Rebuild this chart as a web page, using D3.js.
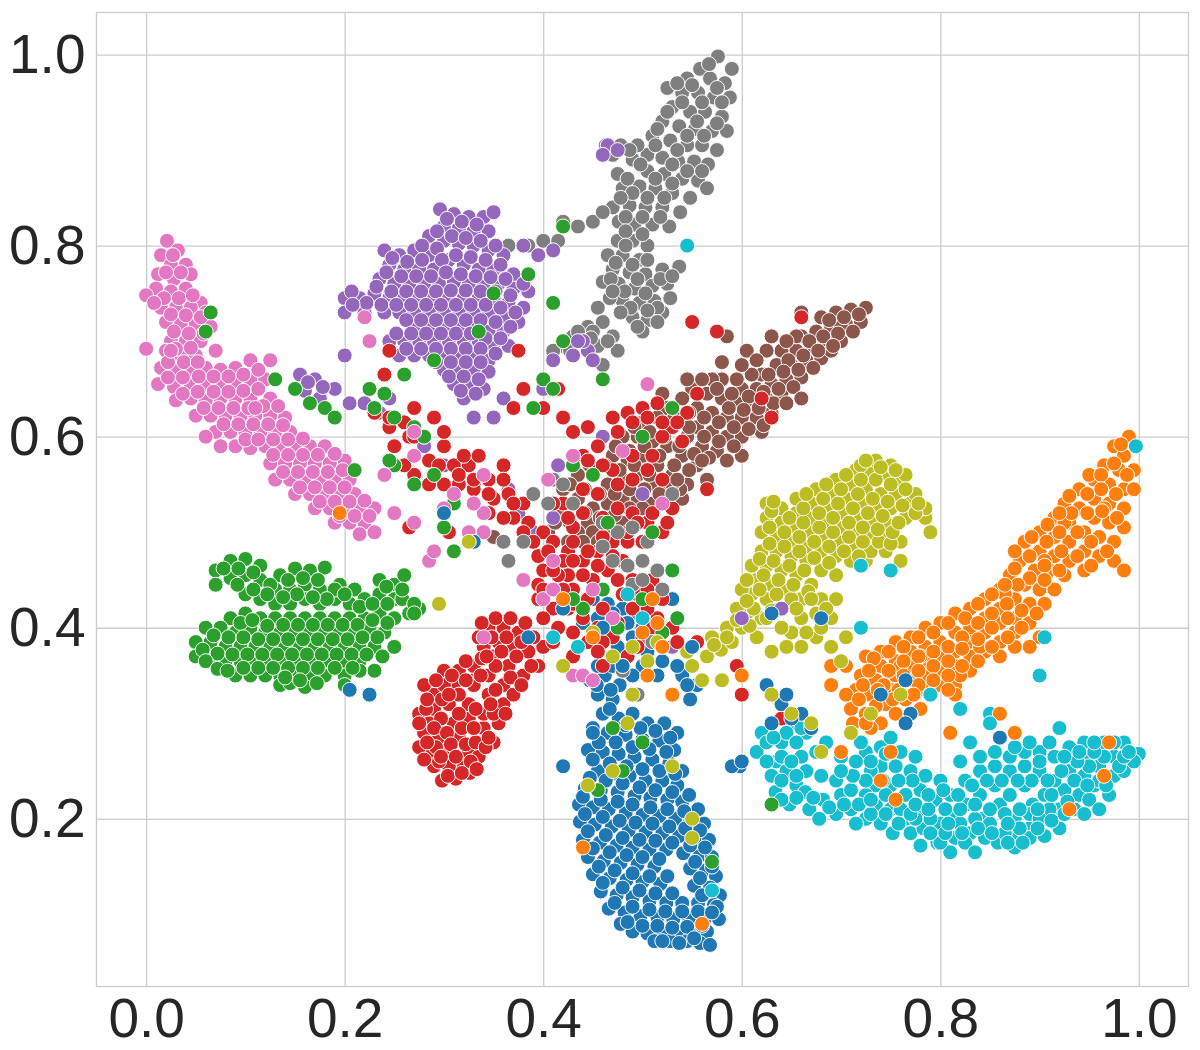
<!DOCTYPE html>
<html>
<head>
<meta charset="utf-8">
<script src="https://cdn.jsdelivr.net/npm/d3@7"></script>
<style>
  html, body { margin: 0; padding: 0; background: #fff; }
  text { font-family: "Liberation Sans", Arial, sans-serif; fill: #262626; }
</style>
</head>
<body>
<div id="chart"></div>
<script>
// points, one list per class, [x, y]
const gray = [[.576,.998],[.558,.985],[.59,.985],[.545,.975],[.568,.975],[.583,.97],[.525,.965],[.54,.96],[.556,.96],[.572,.955],[.588,.955],[.53,.945],[.548,.94],[.563,.94],[.58,.935],[.52,.93],[.537,.925],[.553,.922],[.57,.92],[.585,.92],[.51,.915],[.528,.91],[.545,.905],[.56,.905],[.575,.9],[.505,.895],[.52,.892],[.536,.888],[.552,.888],[.566,.885],[.463,.905],[.478,.905],[.495,.905],[.49,.89],[.505,.878],[.522,.875],[.54,.87],[.556,.868],[.475,.875],[.48,.86],[.497,.862],[.513,.86],[.53,.855],[.548,.85],[.47,.84],[.487,.842],[.503,.84],[.52,.84],[.538,.835],[.565,.86],[.476,.825],[.492,.822],[.51,.822],[.527,.82],[.475,.805],[.49,.805],[.505,.8],[.465,.79],[.48,.79],[.497,.785],[.47,.775],[.487,.772],[.503,.77],[.52,.775],[.537,.778],[.46,.762],[.476,.76],[.492,.755],[.51,.758],[.525,.76],[.48,.742],[.497,.74],[.512,.742],[.467,.745],[.528,.745],[.49,.725],[.505,.722],[.52,.73],[.5,.71],[.455,.735],[.42,.825],[.435,.82],[.415,.805],[.4,.805],[.385,.8],[.365,.8],[.45,.825],[.46,.835],[.43,.705],[.445,.715],[.46,.72],[.42,.695],[.47,.705],[.44,.7],[.455,.695],[.475,.69],[.46,.675],[.41,.69]];
const grayFill = [[.567,.99],[.55,.968],[.575,.965],[.535,.97],[.56,.95],[.54,.95],[.58,.95],[.525,.94],[.555,.93],[.575,.928],[.515,.922],[.545,.915],[.562,.915],[.535,.9],[.513,.905],[.53,.885],[.545,.878],[.56,.878],[.498,.885],[.487,.9],[.47,.895],[.485,.87],[.513,.87],[.53,.865],[.505,.85],[.522,.85],[.49,.855],[.478,.85],[.483,.83],[.5,.83],[.518,.83],[.483,.815],[.5,.812],[.483,.8],[.473,.782],[.49,.78],[.505,.785],[.495,.765],[.468,.765],[.482,.752],[.503,.75],[.518,.765],[.53,.768],[.47,.752],[.488,.735],[.515,.735],[.505,.732],[.478,.73],[.495,.715],[.515,.72],[.45,.71],[.465,.7],[.435,.71],[.448,.703],[.427,.69]];

const blue = [[.447,.345],[.462,.35],[.477,.34],[.455,.33],[.47,.325],[.54,.35],[.555,.34],[.548,.325],[.46,.31],[.476,.305],[.49,.31],[.505,.3],[.522,.3],[.535,.29],[.45,.295],[.465,.29],[.483,.288],[.5,.283],[.517,.282],[.532,.272],[.445,.272],[.46,.27],[.476,.268],[.492,.265],[.51,.262],[.527,.258],[.54,.25],[.455,.25],[.47,.248],[.487,.245],[.503,.24],[.52,.24],[.535,.235],[.442,.232],[.458,.23],[.475,.228],[.492,.224],[.508,.222],[.525,.22],[.54,.218],[.556,.21],[.436,.215],[.45,.212],[.466,.21],[.483,.206],[.5,.204],[.517,.203],[.533,.2],[.548,.197],[.562,.195],[.437,.197],[.452,.194],[.469,.192],[.486,.188],[.503,.186],[.52,.185],[.537,.182],[.553,.18],[.567,.178],[.44,.178],[.457,.175],[.474,.172],[.49,.17],[.507,.168],[.524,.168],[.541,.164],[.558,.162],[.57,.16],[.445,.16],[.461,.156],[.478,.154],[.495,.152],[.512,.15],[.548,.148],[.564,.146],[.574,.14],[.45,.142],[.467,.138],[.484,.136],[.5,.134],[.518,.132],[.552,.13],[.568,.128],[.578,.12],[.458,.124],[.474,.12],[.49,.118],[.507,.114],[.524,.112],[.54,.112],[.556,.112],[.572,.11],[.466,.106],[.482,.102],[.498,.098],[.515,.097],[.531,.095],[.547,.095],[.563,.096],[.577,.095],[.478,.09],[.49,.082],[.505,.08],[.52,.08],[.535,.078],[.55,.08],[.565,.082],[.512,.072],[.528,.072],[.545,.072],[.558,.07],[.568,.068],[.575,.108],[.42,.255],[.454,.385],[.53,.33],[.598,.255],[.59,.255]];
const blueFill = [[.454,.34],[.468,.335],[.467,.315],[.483,.298],[.498,.295],[.513,.292],[.528,.285],[.456,.28],[.473,.28],[.49,.275],[.507,.273],[.524,.27],[.45,.262],[.467,.258],[.484,.255],[.5,.252],[.517,.25],[.533,.247],[.447,.243],[.463,.24],[.48,.237],[.497,.233],[.513,.23],[.53,.228],[.547,.225],[.44,.223],[.458,.22],[.475,.218],[.49,.215],[.508,.212],[.525,.21],[.542,.208],[.442,.205],[.46,.202],[.477,.198],[.493,.196],[.51,.195],[.527,.192],[.543,.19],[.558,.188],[.445,.187],[.463,.183],[.48,.18],[.497,.178],[.513,.177],[.53,.175],[.548,.172],[.563,.17],[.45,.169],[.467,.165],[.484,.162],[.5,.16],[.517,.158],[.553,.155],[.57,.15],[.456,.15],[.472,.146],[.49,.143],[.507,.14],[.525,.14],[.558,.138],[.46,.133],[.48,.128],[.497,.125],[.513,.122],[.53,.122],[.56,.12],[.472,.112],[.49,.108],[.507,.105],[.523,.103],[.54,.103],[.556,.103],[.57,.102],[.485,.092],[.5,.088],[.515,.088],[.53,.086],[.545,.087],[.56,.088],[.52,.072],[.537,.07],[.552,.075]];

const cyan = [[.634,.228],[.648,.215],[.655,.235],[.668,.21],[.664,.228],[.682,.22],[.695,.205],[.678,.2],[.71,.21],[.7,.225],[.725,.2],[.715,.195],[.735,.215],[.74,.195],[.752,.185],[.75,.21],[.765,.2],[.77,.185],[.783,.19],[.78,.21],[.797,.175],[.8,.195],[.815,.18],[.812,.205],[.83,.185],[.826,.215],[.845,.18],[.843,.2],[.858,.175],[.86,.215],[.875,.18],[.875,.2],[.89,.19],[.893,.215],[.906,.2],[.905,.225],[.92,.21],[.925,.23],[.94,.225],[.945,.245],[.955,.235],[.96,.255],[.975,.245],[.975,.265],[.99,.262],[1.0,.268],[.985,.28],[.965,.28],[.945,.265],[.93,.25],[.915,.24],[.9,.25],[.885,.235],[.87,.225],[.855,.235],[.84,.225],[.825,.24],[.81,.225],[.795,.22],[.78,.23],[.765,.225],[.75,.235],[.735,.235],[.725,.225],[.71,.23],[.695,.24],[.74,.255],[.755,.255],[.725,.27],[.74,.275],[.77,.25],[.785,.245],[.8,.24],[.84,.25],[.855,.255],[.87,.25],[.885,.255],[.9,.27],[.915,.265],[.93,.275],[.945,.28],[.95,.22],[.97,.225],[.935,.21],[.92,.19],[.905,.182],[.89,.18],[.875,.17],[.865,.185],[.85,.195],[.835,.2],[.82,.195],[.805,.21],[.79,.2],[.775,.2],[.76,.21],[.745,.225],[.73,.205],[.665,.25],[.68,.245],[.66,.265],[.675,.27],[.64,.28],[.65,.3],[.665,.29],[.62,.29],[.635,.26],[.615,.27],[.63,.245],[.645,.25],[.82,.26],[.83,.28],[.85,.31],[.91,.28],[.92,.295],[.96,.24],[.985,.25],[.995,.26],[.865,.205],[.89,.205],[.91,.21],[.73,.25],[.7,.265],[.685,.28],[.72,.28],[.75,.285],[.735,.3],[.9,.2],[.88,.19],[.96,.21],[.945,.205],[.925,.205],[.78,.172],[.81,.165],[.8,.175],[.825,.175],[.835,.165]];
const cyanFill = [[.64,.22],[.655,.222],[.672,.222],[.688,.212],[.703,.215],[.718,.215],[.73,.22],[.745,.205],[.758,.195],[.77,.205],[.775,.215],[.788,.21],[.79,.185],[.805,.185],[.808,.195],[.82,.21],[.822,.185],[.838,.19],[.835,.215],[.85,.21],[.852,.185],[.868,.175],[.868,.195],[.88,.21],[.883,.175],[.898,.19],[.898,.21],[.912,.198],[.912,.225],[.928,.218],[.935,.24],[.948,.235],[.95,.255],[.965,.245],[.965,.265],[.98,.255],[.955,.27],[.938,.26],[.922,.25],[.908,.24],[.892,.24],[.878,.24],[.862,.24],[.847,.24],[.832,.235],[.818,.225],[.803,.23],[.788,.225],[.772,.24],[.758,.24],[.742,.24],[.725,.24],[.712,.245],[.7,.25],[.745,.268],[.76,.27],[.775,.265],[.73,.26],[.715,.26],[.84,.265],[.855,.27],[.87,.265],[.885,.27],[.9,.26],[.89,.28],[.875,.275],[.925,.265],[.94,.27],[.955,.28],[.975,.28],[.985,.265],[.967,.235],[.99,.27],[.64,.265],[.625,.26],[.65,.26],[.655,.245],[.64,.24],[.625,.28],[.63,.3],[.645,.29],[.655,.28],[.66,.295],[.632,.285]];

const orange = [[.99,.6],[.975,.59],[.985,.58],[.965,.57],[.98,.565],[.995,.565],[.955,.555],[.97,.55],[.985,.545],[.995,.545],[.94,.545],[.955,.535],[.97,.53],[.985,.525],[.925,.53],[.94,.525],[.955,.515],[.97,.51],[.985,.505],[.915,.515],[.93,.51],[.945,.5],[.96,.495],[.975,.49],[.9,.5],[.915,.495],[.93,.49],[.945,.48],[.96,.475],[.975,.47],[.885,.49],[.9,.48],[.915,.475],[.93,.47],[.945,.46],[.88,.47],[.895,.46],[.91,.46],[.925,.455],[.985,.46],[.87,.455],[.885,.445],[.9,.44],[.915,.44],[.86,.44],[.875,.43],[.89,.425],[.905,.425],[.845,.43],[.86,.42],[.875,.41],[.89,.405],[.83,.42],[.845,.41],[.86,.405],[.875,.395],[.9,.39],[.89,.38],[.815,.415],[.83,.4],[.845,.395],[.86,.385],[.875,.38],[.8,.405],[.815,.395],[.83,.385],[.845,.375],[.86,.37],[.785,.4],[.8,.385],[.815,.375],[.83,.37],[.77,.39],[.785,.38],[.8,.37],[.815,.36],[.83,.355],[.755,.385],[.77,.375],[.785,.365],[.8,.355],[.815,.34],[.74,.375],[.755,.365],[.77,.36],[.785,.35],[.8,.34],[.815,.33],[.725,.37],[.74,.36],[.755,.35],[.77,.345],[.785,.335],[.72,.35],[.735,.345],[.75,.335],[.765,.325],[.78,.315],[.715,.335],[.73,.33],[.745,.32],[.71,.315],[.725,.31],[.74,.3],[.705,.33],[.755,.31],[.73,.295],[.705,.36],[.69,.36],[.965,.525],[.95,.56],[.925,.51],[.905,.47],[.865,.435],[.84,.38],[.82,.35],[.79,.33],[.76,.36],[.78,.37]];
const orangeFill = [[.982,.592],[.975,.572],[.988,.56],[.962,.56],[.977,.54],[.962,.545],[.948,.54],[.93,.538],[.963,.522],[.978,.515],[.948,.52],[.932,.52],[.92,.52],[.908,.508],[.92,.5],[.938,.5],[.952,.49],[.968,.48],[.892,.495],[.907,.49],[.922,.48],[.938,.475],[.952,.465],[.875,.48],[.89,.475],[.905,.465],[.92,.46],[.875,.462],[.89,.452],[.905,.45],[.878,.445],[.865,.445],[.852,.435],[.867,.425],[.882,.418],[.897,.415],[.838,.425],[.852,.415],[.868,.41],[.882,.4],[.825,.41],[.838,.405],[.852,.4],[.868,.39],[.808,.405],[.822,.39],[.838,.388],[.852,.38],[.793,.395],[.808,.38],[.822,.378],[.838,.365],[.778,.39],[.793,.375],[.808,.365],[.822,.36],[.763,.38],[.778,.37],[.793,.36],[.808,.35],[.748,.375],[.763,.365],[.778,.355],[.793,.345],[.808,.335],[.733,.368],[.748,.355],[.763,.35],[.778,.34],[.728,.355],[.743,.34],[.758,.335],[.773,.33],[.722,.34],[.737,.335],[.752,.325],[.718,.325],[.735,.318],[.712,.3],[.725,.3]];

const olive = [[.579,.377],[.565,.37],[.59,.385],[.6,.4],[.615,.39],[.585,.4],[.57,.39],[.605,.415],[.62,.41],[.595,.42],[.61,.435],[.625,.43],[.64,.42],[.6,.44],[.615,.45],[.63,.445],[.645,.44],[.66,.43],[.61,.465],[.625,.465],[.64,.46],[.655,.455],[.67,.445],[.62,.48],[.635,.48],[.65,.475],[.665,.47],[.68,.46],[.695,.455],[.62,.5],[.635,.495],[.65,.49],[.665,.485],[.68,.48],[.695,.475],[.71,.47],[.725,.47],[.625,.515],[.64,.51],[.655,.505],[.67,.5],[.685,.495],[.7,.49],[.715,.485],[.73,.48],[.745,.48],[.76,.47],[.625,.53],[.64,.525],[.655,.52],[.67,.515],[.685,.51],[.7,.505],[.715,.5],[.73,.495],[.745,.495],[.655,.535],[.67,.53],[.685,.525],[.7,.52],[.715,.515],[.73,.51],[.745,.51],[.76,.49],[.675,.545],[.69,.54],[.705,.535],[.72,.53],[.735,.525],[.75,.525],[.765,.515],[.695,.555],[.71,.55],[.725,.545],[.74,.54],[.755,.54],[.77,.53],[.785,.515],[.79,.5],[.785,.525],[.715,.565],[.73,.565],[.745,.56],[.76,.555],[.775,.54],[.72,.57],[.735,.575],[.75,.57],[.765,.56],[.68,.43],[.695,.43],[.66,.41],[.675,.415],[.69,.41],[.65,.395],[.66,.38],[.675,.39],[.63,.375],[.645,.38],[.69,.38],[.7,.365],[.705,.39],[.68,.4],[.625,.41],[.55,.36],[.56,.345],[.545,.375],[.58,.345]];
const oliveFill = [[.572,.382],[.585,.39],[.595,.408],[.608,.402],[.612,.42],[.63,.418],[.605,.428],[.618,.44],[.635,.435],[.65,.43],[.605,.45],[.622,.455],[.637,.45],[.652,.445],[.667,.438],[.618,.472],[.632,.47],[.648,.465],[.663,.46],[.628,.488],[.643,.485],[.658,.48],[.673,.473],[.688,.468],[.628,.505],[.643,.5],[.658,.495],[.673,.49],[.688,.485],[.703,.48],[.718,.475],[.738,.49],[.63,.522],[.648,.515],[.662,.51],[.678,.505],[.692,.5],[.708,.495],[.722,.49],[.75,.488],[.632,.532],[.662,.525],[.678,.52],[.692,.515],[.708,.51],[.722,.505],[.737,.503],[.752,.5],[.665,.54],[.682,.535],[.697,.53],[.712,.525],[.727,.52],[.742,.517],[.758,.51],[.685,.55],[.7,.545],[.717,.54],[.732,.535],[.747,.532],[.762,.528],[.775,.52],[.705,.56],[.72,.555],[.735,.555],[.75,.55],[.765,.545],[.778,.53],[.725,.575],[.74,.568],[.755,.565],[.67,.43],[.685,.42],[.665,.395],[.655,.42],[.64,.4]];

const brown = [[.725,.735],[.71,.733],[.695,.73],[.68,.725],[.72,.72],[.705,.718],[.69,.715],[.675,.71],[.66,.705],[.7,.7],[.685,.7],[.67,.695],[.655,.69],[.64,.69],[.68,.682],[.665,.68],[.65,.675],[.635,.675],[.62,.665],[.66,.662],[.645,.66],[.63,.655],[.615,.65],[.6,.65],[.64,.645],[.625,.64],[.61,.635],[.595,.635],[.58,.64],[.63,.625],[.615,.62],[.6,.62],[.585,.62],[.57,.625],[.555,.63],[.6,.6],[.585,.6],[.57,.605],[.555,.61],[.54,.62],[.525,.63],[.575,.585],[.56,.59],[.545,.6],[.53,.61],[.515,.62],[.5,.615],[.555,.57],[.54,.58],[.525,.59],[.51,.595],[.495,.6],[.48,.6],[.545,.55],[.53,.56],[.515,.57],[.5,.58],[.485,.575],[.47,.58],[.54,.535],[.525,.54],[.51,.55],[.495,.56],[.48,.555],[.465,.55],[.45,.56],[.435,.56],[.42,.545],[.51,.53],[.495,.535],[.48,.535],[.465,.53],[.45,.525],[.435,.535],[.42,.52],[.405,.5],[.465,.505],[.48,.51],[.445,.51],[.45,.5],[.435,.5],[.69,.69],[.7,.715],[.655,.705],[.625,.69],[.61,.665],[.595,.66],[.58,.66],[.565,.645],[.55,.65],[.54,.64],[.6,.675],[.58,.678],[.575,.71],[.585,.705],[.66,.73],[.57,.66],[.545,.66],[.52,.645],[.6,.58],[.62,.605],[.565,.555],[.585,.575],[.33,.345],[.29,.335],[.43,.43],[.35,.495],[.33,.55]];
const brownFill = [[.718,.728],[.703,.725],[.688,.722],[.712,.71],[.697,.708],[.682,.705],[.668,.7],[.692,.695],[.677,.69],[.662,.685],[.647,.68],[.672,.672],[.657,.67],[.642,.668],[.627,.665],[.652,.652],[.637,.65],[.622,.647],[.607,.642],[.632,.635],[.617,.63],[.602,.628],[.587,.63],[.622,.612],[.607,.608],[.592,.61],[.577,.615],[.562,.62],[.547,.625],[.592,.59],[.577,.595],[.562,.6],[.547,.61],[.532,.62],[.567,.578],[.552,.582],[.537,.59],[.522,.6],[.507,.605],[.492,.61],[.547,.565],[.532,.57],[.517,.58],[.502,.59],[.487,.585],[.473,.59],[.538,.545],[.523,.55],[.507,.56],[.492,.57],[.477,.565],[.462,.57],[.447,.57],[.53,.55],[.517,.54],[.502,.545],[.487,.545],[.472,.54],[.457,.54],[.442,.545],[.427,.55],[.5,.525],[.487,.525],[.472,.518],[.457,.515],[.442,.52],[.427,.51],[.412,.51],[.455,.49],[.475,.495],[.44,.49],[.425,.49],[.535,.555],[.56,.575],[.605,.69],[.615,.68],[.63,.705],[.645,.7],[.59,.645],[.575,.65],[.56,.66],[.66,.64],[.645,.635]];

const redLower = [[.275,.31],[.285,.3],[.29,.315],[.28,.29],[.295,.285],[.31,.3],[.285,.27],[.3,.27],[.315,.285],[.325,.27],[.29,.255],[.305,.255],[.32,.255],[.335,.265],[.298,.24],[.312,.242],[.326,.248],[.35,.28],[.34,.295],[.325,.305],[.305,.32],[.29,.33],[.31,.34],[.325,.32],[.34,.31],[.355,.3],[.36,.32],[.345,.33],[.33,.34],[.315,.355],[.33,.36],[.345,.35],[.36,.34],[.37,.33],[.35,.37],[.365,.36],[.38,.35],[.395,.36],[.34,.38],[.355,.385],[.37,.38],[.385,.375],[.4,.38],[.345,.4],[.36,.4],[.375,.395],[.39,.39],[.335,.39],[.28,.34],[.3,.355],[.295,.26],[.275,.275],[.35,.31]];
const redLowerFill = [[.282,.315],[.297,.305],[.29,.295],[.303,.29],[.318,.295],[.292,.275],[.307,.278],[.322,.278],[.283,.28],[.297,.265],[.312,.265],[.327,.26],[.304,.245],[.318,.248],[.333,.252],[.332,.28],[.342,.275],[.345,.285],[.33,.295],[.315,.31],[.298,.325],[.283,.325],[.3,.34],[.315,.33],[.332,.315],[.347,.32],[.362,.31],[.352,.335],[.337,.35],[.322,.345],[.308,.35],[.322,.365],[.338,.368],[.352,.36],[.367,.348],[.378,.34],[.343,.37],[.358,.375],[.373,.37],[.388,.36],[.348,.39],[.363,.39],[.378,.385],[.352,.41],[.367,.41],[.382,.405],[.338,.405],[.292,.345],[.305,.33],[.275,.3],[.28,.262]];

const redCenter = [[.23,.625],[.245,.61],[.26,.615],[.25,.59],[.265,.6],[.28,.6],[.27,.58],[.285,.575],[.3,.59],[.31,.57],[.325,.57],[.335,.58],[.3,.55],[.315,.55],[.33,.545],[.345,.555],[.36,.57],[.35,.535],[.365,.54],[.38,.53],[.37,.515],[.385,.51],[.4,.5],[.41,.49],[.425,.48],[.395,.475],[.41,.47],[.425,.455],[.44,.47],[.455,.48],[.47,.49],[.485,.49],[.45,.45],[.465,.46],[.48,.47],[.44,.58],[.455,.59],[.47,.62],[.485,.625],[.5,.63],[.515,.635],[.53,.61],[.545,.625],[.49,.555],[.505,.565],[.52,.555],[.47,.565],[.455,.54],[.44,.52],[.43,.505],[.42,.53],[.46,.515],[.475,.525],[.49,.52],[.505,.51],[.52,.5],[.53,.525],[.5,.49],[.48,.435],[.495,.435],[.51,.45],[.515,.41],[.53,.4],[.5,.39],[.485,.37],[.47,.39],[.455,.4],[.44,.41],[.425,.42],[.41,.42],[.395,.43],[.38,.45],[.395,.445],[.43,.44],[.415,.44],[.505,.42],[.52,.43],[.535,.385],[.445,.385],[.43,.37],[.41,.385],[.46,.36],[.535,.615],[.575,.71],[.555,.645],[.4,.63],[.42,.62],[.43,.605],[.445,.61],[.415,.65],[.38,.65],[.245,.69],[.24,.665],[.375,.69],[.37,.63],[.305,.5],[.265,.505],[.3,.605],[.29,.62],[.27,.63],[.55,.72],[.66,.725],[.565,.545],[.52,.6],[.63,.62],[.62,.64],[.54,.595],[.595,.36],[.6,.33],[.555,.385],[.64,.305]];
const redCenterFill = [[.315,.56],[.33,.555],[.32,.58],[.345,.54],[.36,.555],[.37,.53],[.33,.53],[.345,.52],[.36,.515],[.38,.5],[.39,.49],[.405,.48],[.42,.47],[.4,.46],[.415,.455],[.44,.455],[.43,.47],[.455,.465],[.47,.475],[.46,.495],[.445,.48],[.43,.49],[.46,.57],[.445,.575],[.475,.605],[.49,.615],[.505,.62],[.52,.615],[.51,.58],[.49,.58],[.475,.55],[.485,.5],[.51,.52],[.525,.51],[.495,.51],[.44,.545],[.425,.515],[.41,.53],[.41,.46],[.4,.44],[.42,.44],[.43,.425],[.445,.43],[.46,.42],[.475,.45],[.49,.45],[.505,.44],[.49,.42],[.475,.405],[.46,.385],[.43,.395],[.415,.4],[.4,.41],[.51,.4],[.495,.38],[.455,.375],[.27,.56],[.26,.57],[.285,.55],[.295,.57],[.27,.6],[.245,.62]];

const green = [[.07,.46],[.085,.47],[.1,.472],[.115,.465],[.135,.455],[.15,.462],[.165,.46],[.18,.463],[.195,.445],[.21,.44],[.235,.45],[.25,.445],[.26,.455],[.275,.42],[.265,.415],[.25,.43],[.235,.435],[.22,.43],[.205,.425],[.19,.43],[.175,.44],[.16,.445],[.145,.44],[.13,.44],[.115,.45],[.1,.455],[.085,.452],[.07,.445],[.1,.435],[.115,.43],[.13,.425],[.145,.425],[.16,.43],[.175,.425],[.205,.41],[.22,.41],[.235,.415],[.25,.41],[.085,.41],[.1,.415],[.115,.41],[.13,.41],[.145,.41],[.16,.41],[.175,.41],[.19,.41],[.06,.4],[.075,.4],[.09,.395],[.105,.4],[.12,.395],[.135,.395],[.15,.395],[.165,.395],[.18,.395],[.195,.395],[.21,.395],[.225,.4],[.24,.395],[.05,.385],[.065,.385],[.08,.38],[.095,.38],[.11,.38],[.125,.38],[.14,.38],[.155,.38],[.17,.38],[.185,.38],[.2,.38],[.215,.38],[.23,.38],[.25,.38],[.05,.37],[.065,.365],[.08,.365],[.095,.365],[.11,.365],[.125,.365],[.14,.365],[.155,.365],[.17,.365],[.185,.365],[.2,.365],[.215,.365],[.23,.355],[.09,.35],[.105,.35],[.12,.35],[.135,.35],[.15,.35],[.165,.35],[.18,.35],[.2,.35],[.215,.355],[.135,.34],[.145,.342],[.16,.338]];
const greenFill = [[.078,.462],[.093,.462],[.108,.458],[.125,.445],[.143,.45],[.158,.452],[.173,.45],[.19,.44],[.2,.435],[.215,.422],[.228,.425],[.243,.425],[.258,.43],[.27,.425],[.258,.44],[.242,.443],[.182,.43],[.168,.432],[.152,.435],[.138,.432],[.122,.435],[.108,.44],[.092,.445],[.095,.405],[.107,.408],[.122,.402],[.138,.403],[.153,.403],[.168,.403],[.183,.403],[.198,.403],[.213,.403],[.228,.408],[.243,.405],[.068,.392],[.083,.39],[.098,.39],[.113,.388],[.128,.388],[.143,.388],[.158,.388],[.173,.388],[.188,.388],[.203,.388],[.218,.39],[.233,.39],[.057,.377],[.072,.373],[.087,.372],[.102,.372],[.117,.372],[.132,.372],[.147,.372],[.162,.372],[.177,.372],[.192,.372],[.207,.372],[.222,.372],[.238,.37],[.06,.365],[.098,.358],[.113,.358],[.128,.358],[.143,.358],[.158,.358],[.173,.358],[.19,.358],[.208,.358],[.14,.348],[.155,.345],[.172,.342],[.072,.357],[.082,.355]];

const greenMixed = [[.13,.66],[.15,.65],[.165,.635],[.18,.63],[.19,.62],[.225,.65],[.24,.645],[.25,.62],[.27,.61],[.28,.6],[.25,.57],[.27,.55],[.29,.56],[.31,.53],[.3,.505],[.325,.5],[.31,.48],[.245,.575],[.21,.565],[.23,.63],[.26,.665],[.29,.68],[.335,.71],[.35,.75],[.385,.77],[.42,.82],[.41,.74],[.42,.7],[.4,.66],[.41,.65],[.39,.63],[.43,.57],[.45,.56],[.5,.6],[.465,.51],[.51,.5],[.53,.46],[.46,.44],[.44,.42],[.475,.4],[.52,.395],[.535,.41],[.55,.38],[.5,.43],[.43,.43],[.48,.36],[.47,.295],[.455,.23],[.48,.25],[.5,.28],[.57,.155],[.53,.63],[.46,.66],[.06,.71],[.065,.73],[.63,.215],[.27,.415],[.2,.34]];

const pink = [[.021,.805],[.032,.795],[.015,.79],[.025,.78],[.04,.78],[.012,.77],[.028,.765],[.045,.77],[.01,.755],[.025,.752],[.04,.755],[.055,.74],[.0,.748],[.015,.735],[.03,.735],[.045,.735],[.06,.73],[.02,.72],[.035,.718],[.05,.718],[.065,.715],[.025,.7],[.04,.7],[.055,.7],[.02,.69],[.035,.685],[.05,.685],[.07,.69],[.015,.672],[.03,.67],[.045,.67],[.06,.672],[.075,.67],[.09,.672],[.105,.68],[.125,.68],[.012,.655],[.028,.652],[.045,.655],[.06,.655],[.075,.655],[.09,.655],[.105,.66],[.12,.66],[.03,.638],[.045,.64],[.06,.638],[.075,.64],[.09,.64],[.105,.64],[.125,.64],[.05,.622],[.065,.622],[.08,.622],[.095,.622],[.11,.622],[.125,.622],[.14,.62],[.07,.605],[.085,.605],[.1,.605],[.115,.605],[.13,.605],[.145,.605],[.09,.59],[.105,.588],[.12,.59],[.135,.59],[.15,.59],[.165,.59],[.18,.59],[.125,.572],[.14,.572],[.155,.572],[.17,.572],[.185,.572],[.2,.575],[.13,.555],[.145,.555],[.16,.555],[.175,.555],[.19,.555],[.205,.555],[.15,.54],[.165,.54],[.18,.54],[.195,.54],[.21,.54],[.17,.525],[.185,.525],[.2,.525],[.215,.525],[.23,.525],[.19,.51],[.205,.51],[.22,.51],[.215,.498],[.23,.5]];
const pinkFill = [[.027,.79],[.02,.772],[.035,.772],[.018,.745],[.033,.745],[.047,.748],[.008,.74],[.025,.728],[.04,.727],[.055,.725],[.028,.71],[.043,.708],[.058,.708],[.03,.692],[.045,.693],[.022,.678],[.038,.678],[.052,.678],[.022,.662],[.037,.662],[.053,.663],[.068,.663],[.083,.663],[.098,.665],[.113,.67],[.037,.645],[.052,.647],[.068,.647],[.083,.647],[.098,.648],[.113,.65],[.058,.63],[.073,.63],[.088,.63],[.103,.63],[.118,.632],[.133,.632],[.078,.613],[.093,.613],[.108,.613],[.123,.613],[.138,.612],[.1,.597],[.113,.597],[.128,.597],[.143,.597],[.158,.598],[.128,.581],[.143,.581],[.158,.581],[.173,.581],[.19,.582],[.138,.563],[.153,.563],[.168,.563],[.183,.563],[.198,.565],[.155,.547],[.17,.547],[.185,.547],[.2,.547],[.175,.532],[.19,.532],[.205,.532],[.22,.533],[.195,.517],[.21,.517],[.225,.517]];

const pinkMixed = [[-.0,.692],[.025,.69],[.06,.6],[.075,.59],[.11,.63],[.225,.7],[.22,.725],[.34,.52],[.31,.54],[.3,.525],[.285,.47],[.29,.48],[.325,.5],[.34,.5],[.34,.39],[.4,.43],[.41,.44],[.42,.42],[.43,.35],[.44,.35],[.45,.345],[.38,.45],[.41,.47],[.45,.44],[.47,.41],[.405,.555],[.43,.58],[.48,.585],[.505,.655],[.52,.53],[.24,.56],[.25,.52],[.27,.51],[.27,.605],[.27,.58],[.33,.53],[.34,.56]];

const purple = [[.296,.838],[.31,.833],[.325,.83],[.34,.83],[.35,.835],[.3,.82],[.315,.818],[.33,.815],[.345,.815],[.285,.81],[.3,.805],[.315,.802],[.33,.8],[.345,.795],[.36,.79],[.24,.795],[.255,.79],[.27,.795],[.285,.79],[.245,.78],[.26,.775],[.275,.775],[.29,.775],[.305,.785],[.32,.78],[.335,.775],[.35,.775],[.37,.77],[.235,.765],[.25,.76],[.265,.76],[.28,.76],[.295,.76],[.31,.762],[.325,.76],[.34,.76],[.355,.76],[.37,.755],[.385,.752],[.2,.745],[.215,.745],[.23,.75],[.245,.745],[.26,.745],[.275,.745],[.29,.745],[.305,.745],[.32,.745],[.335,.745],[.35,.745],[.365,.74],[.38,.735],[.2,.73],[.22,.73],[.24,.73],[.255,.73],[.27,.73],[.285,.73],[.3,.73],[.315,.73],[.33,.73],[.345,.73],[.36,.725],[.375,.72],[.27,.715],[.285,.715],[.3,.715],[.315,.715],[.33,.715],[.345,.71],[.36,.71],[.245,.7],[.26,.7],[.275,.7],[.29,.7],[.305,.7],[.32,.7],[.335,.7],[.35,.695],[.365,.695],[.255,.685],[.27,.685],[.285,.685],[.3,.685],[.315,.685],[.33,.685],[.345,.68],[.3,.67],[.315,.67],[.33,.67],[.345,.668],[.31,.655],[.325,.655],[.34,.65],[.32,.64],[.33,.62],[.36,.64],[.35,.62],[.2,.685],[.155,.665],[.17,.66],[.16,.648],[.175,.64],[.19,.65],[.205,.635],[.22,.635],[.235,.625],[.245,.64],[.38,.8],[.395,.79],[.41,.795],[.38,.76],[.42,.7],[.43,.685],[.445,.69],[.41,.68],[.4,.65],[.465,.905],[.475,.9],[.46,.895],[.28,.59],[.3,.57],[.345,.555],[.365,.545],[.375,.52],[.39,.5],[.41,.515],[.425,.47],[.47,.47],[.5,.54],[.415,.57],[.46,.6],[.425,.43],[.6,.41],[.64,.42],[.53,.38],[.5,.42]];
const purpleFill = [[.303,.828],[.318,.825],[.333,.822],[.293,.815],[.308,.81],[.322,.808],[.337,.805],[.352,.8],[.278,.8],[.293,.797],[.248,.787],[.263,.783],[.278,.785],[.298,.785],[.312,.79],[.327,.788],[.342,.785],[.357,.78],[.242,.772],[.257,.768],[.272,.768],[.287,.768],[.302,.772],[.317,.77],[.332,.768],[.347,.767],[.362,.765],[.232,.757],[.247,.752],[.262,.752],[.277,.752],[.292,.752],[.307,.753],[.322,.753],[.337,.752],[.352,.752],[.367,.748],[.207,.752],[.222,.74],[.237,.738],[.252,.738],[.267,.738],[.282,.738],[.297,.738],[.312,.738],[.327,.738],[.342,.738],[.357,.735],[.372,.73],[.208,.738],[.262,.722],[.277,.722],[.292,.722],[.307,.722],[.322,.722],[.337,.722],[.352,.72],[.367,.715],[.252,.708],[.267,.708],[.282,.708],[.297,.708],[.312,.708],[.327,.708],[.342,.703],[.357,.703],[.262,.692],[.277,.692],[.292,.692],[.307,.692],[.322,.692],[.337,.692],[.352,.687],[.292,.678],[.307,.678],[.322,.678],[.337,.678],[.305,.663],[.32,.663],[.335,.66],[.317,.648],[.332,.645],[.44,.7],[.435,.7],[.45,.68],[.163,.657],[.178,.652]];

// gray, blue and the rest that sit in the middle of the mix
const grayMixed = [[.46,.51],[.475,.5],[.49,.505],[.505,.49],[.47,.47],[.485,.465],[.5,.47],[.515,.46],[.49,.445],[.46,.485],[.52,.44],[.5,.45],[.48,.355],[.41,.555],[.42,.55],[.405,.53],[.43,.53],[.39,.54],[.53,.54],[.51,.385],[.495,.33],[.36,.49],[.25,.57],[.365,.47],[.38,.49]];
const blueCenter = [[.45,.43],[.465,.425],[.48,.42],[.495,.415],[.455,.41],[.47,.415],[.485,.405],[.5,.4],[.515,.395],[.46,.395],[.475,.38],[.49,.39],[.505,.375],[.52,.365],[.5,.36],[.515,.35],[.47,.36],[.455,.36],[.49,.35],[.535,.36],[.545,.34],[.44,.405],[.53,.43]];

const cyanMixed = [[.545,.8],[.997,.59],[.905,.39],[.9,.35],[.79,.33],[.82,.315],[.85,.3],[.72,.4],[.72,.465],[.75,.46],[.41,.39],[.435,.38],[.5,.41],[.485,.435],[.57,.125]];

const oliveMixed = [[.295,.425],[.325,.49],[.42,.36],[.45,.395],[.47,.37],[.49,.38],[.505,.365],[.49,.33],[.485,.3],[.47,.25],[.445,.235],[.53,.255],[.55,.2],[.55,.18],[.515,.385],[.63,.33],[.65,.31],[.67,.3],[.68,.27],[.73,.31],[.71,.29],[.76,.33],[.69,.34]];

const orangeMixed = [[.195,.52],[.44,.17],[.56,.09],[.5,.395],[.51,.43],[.42,.43],[.45,.39],[.515,.405],[.52,.38],[.505,.35],[.53,.33],[.69,.34],[.74,.24],[.75,.27],[.755,.22],[.81,.29],[.86,.31],[.875,.29],[.93,.21],[.965,.245],[.97,.28],[.7,.27],[.6,.35]];

const blueMixed = [[.74,.33],[.765,.345],[.77,.31],[.765,.3],[.625,.34],[.64,.32],[.63,.3],[.66,.31],[.645,.33],[.67,.295],[.65,.305],[.86,.285],[.48,.36],[.42,.42],[.46,.4],[.385,.39],[.33,.49],[.55,.38],[.205,.335],[.225,.33],[.6,.26],[.63,.415],[.68,.41],[.45,.29],[.3,.52]];

const classes = [
  { color: "#7f7f7f", values: gray.concat(grayFill) },
  { color: "#1f77b4", values: blue.concat(blueFill) },
  { color: "#17becf", values: cyan.concat(cyanFill) },
  { color: "#ff7f0e", values: orange.concat(orangeFill) },
  { color: "#bcbd22", values: olive.concat(oliveFill) },
  { color: "#2ca02c", values: green.concat(greenFill) },
  { color: "#e377c2", values: pink.concat(pinkFill) },
  { color: "#8c564b", values: brown.concat(brownFill) },
  { color: "#d62728", values: redLower.concat(redLowerFill) },
  { color: "#9467bd", values: purple.concat(purpleFill) },
  { color: "#1f77b4", values: blueCenter },
  { color: "#d62728", values: redCenter.concat(redCenterFill) },
  { color: "#7f7f7f", values: grayMixed },
  { color: "#2ca02c", values: greenMixed },
  { color: "#e377c2", values: pinkMixed },
  { color: "#1f77b4", values: blueMixed },
  { color: "#bcbd22", values: oliveMixed },
  { color: "#ff7f0e", values: orangeMixed },
  { color: "#17becf", values: cyanMixed }
];

const tick_values = [0, 0.2, 0.4, 0.6, 0.8, 1.0];

// constants
const width = 1200;
const height = 1050;
const left = 96.5, right = 1188.5, top_edge = 12.5, bottom = 986.5;
const grid_color = "#cccccc";
const dot_radius = 7.5;

const svg = d3.select("#chart").append("svg")
  .attr("width", width)
  .attr("height", height)
  .style("display", "block");

// scales
const x_scale = d3.scaleLinear().domain([-0.05, 1.05]).range([left, right]);
const y_scale = d3.scaleLinear().domain([0.0245, 1.044]).range([bottom, top_edge]);

// axes, the ticks double as the grid
const x_axis = d3.axisBottom(x_scale)
  .tickValues(tick_values)
  .tickFormat(d3.format(".1f"))
  .tickSize(-(bottom - top_edge))
  .tickPadding(11);
const y_axis = d3.axisLeft(y_scale)
  .tickValues(tick_values.slice(1))
  .tickFormat(d3.format(".1f"))
  .tickSize(-(right - left))
  .tickPadding(11);

const gx = svg.append("g").attr("transform", "translate(0," + bottom + ")").call(x_axis);
const gy = svg.append("g").attr("transform", "translate(" + left + ",0)").call(y_axis);
[gx, gy].forEach(function(g) {
  g.select(".domain").remove();
  g.selectAll("line").attr("stroke", grid_color).attr("stroke-width", 1.3);
  g.selectAll("text").attr("font-size", 55).style("fill", "#262626")
    .attr("font-family", '"Liberation Sans", Arial, sans-serif');
});

// frame
svg.append("rect")
  .attr("x", left).attr("y", top_edge)
  .attr("width", right - left).attr("height", bottom - top_edge)
  .attr("fill", "none").attr("stroke", grid_color).attr("stroke-width", 1.3);

// draw dots
classes.forEach(function(c) {
  svg.append("g").selectAll("circle")
    .data(c.values).enter()
    .append("circle")
    .attr("r", dot_radius)
    .attr("cx", function(d) { return x_scale(d[0]); })
    .attr("cy", function(d) { return y_scale(d[1]); })
    .attr("fill", c.color)
    .attr("stroke", "#ffffff")
    .attr("stroke-width", 1);
});
</script>
</body>
</html>
